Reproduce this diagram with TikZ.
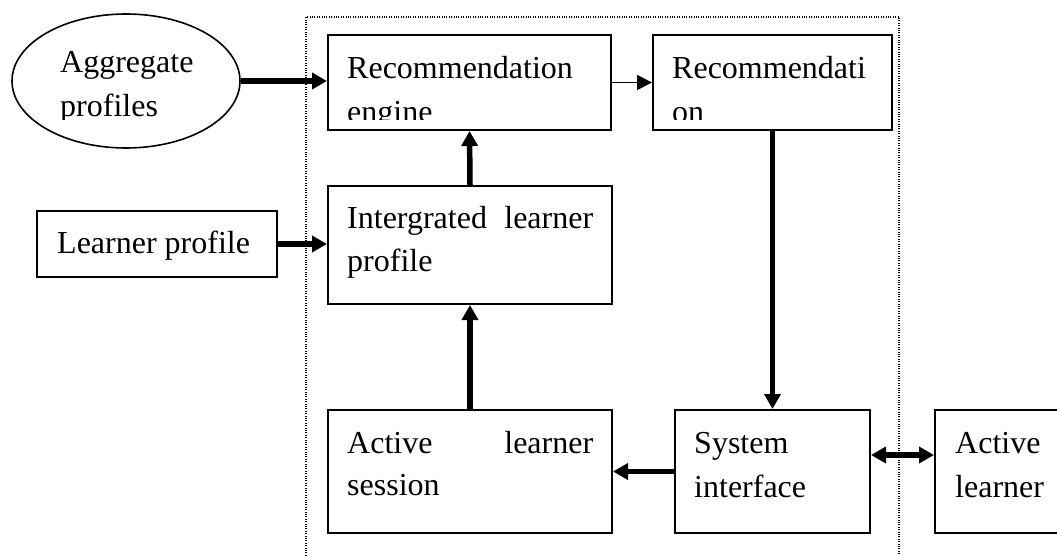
\documentclass[tikz,border=0pt]{standalone}
\usepackage{fontspec}
\setmainfont{Liberation Serif}
\usetikzlibrary{arrows.meta,shapes.geometric}

\tikzset{
  box/.style={draw, line width=2pt, rectangle, inner sep=0pt},
  oval/.style={draw, line width=1.6pt, ellipse, inner sep=0pt},
  label/.style={anchor=base west, inner sep=0pt, font=\fontsize{32}{44}\selectfont},
  heavy/.style={line width=5.5pt, -{Triangle[length=15pt,width=16pt]}},
  heavyboth/.style={line width=5.5pt, {Triangle[length=15pt,width=16pt]}-{Triangle[length=15pt,width=16pt]}},
  light/.style={line width=1.8pt, -{Triangle[length=15pt,width=15pt]}},
  frame/.style={line width=1.2pt, dash pattern=on 1pt off 1.4pt},
}

\begin{document}
\begin{tikzpicture}[x=1pt,y=-1pt]
\useasboundingbox (0,0) rectangle (1057,556);

% system boundary, open at the bottom
\draw[frame] (306,575) -- (306,17) -- (899,17) -- (899,575);

% blocks
\node[oval, minimum width=228pt, minimum height=134pt] (agg) at (126,81) {};
\node[box, minimum width=283pt, minimum height=95pt] (eng) at (469.5,82.5) {};
\node[box, minimum width=239pt, minimum height=95pt] (rec) at (772.5,82.5) {};
\node[box, minimum width=240pt, minimum height=66pt] (lp) at (157,244) {};
\node[box, minimum width=284pt, minimum height=118pt] (integ) at (470,245) {};
\node[box, minimum width=284pt, minimum height=123pt] (sess) at (470,471.5) {};
\node[box, minimum width=195pt, minimum height=123pt] (sys) at (772.5,471.5) {};
\node[box, minimum width=170pt, minimum height=123pt] (al) at (1020,471.5) {};

% first lines of the top row
\node[label] (aggA) at (60,73) {Aggregate};
\node[label] (engA) at (347,79) {Recommendation};
\node[label] (recA) at (672,79) {Recommendati};
% second lines of the top row, cut off by the text area
\begin{scope}
  \clip (0,0) rectangle (1057,120);
  \node[label] (aggB) at (60,117) {profiles};
  \node[label] (engB) at (347,123) {engine};
  \node[label] (recB) at (672,123) {on};
\end{scope}

\node[label] (lpA) at (57,253) {Learner profile};
\node[label] (integA) at (347,228) {\makebox[246pt][s]{Intergrated learner}};
\node[label] (integB) at (347,271) {profile};
\node[label] (sessA) at (347,453) {\makebox[246pt][s]{Active learner}};
\node[label] (sessB) at (347,495) {session};
\node[label] (sysA) at (694,453) {System};
\node[label] (sysB) at (694,497) {interface};
\node[label] (alA) at (955,453) {Active};
\node[label] (alB) at (955,497) {learner};

% connectors
\draw[heavy] (agg.east) -- (agg.east -| eng.west);
\draw[light] (eng.east) -- (rec.west);
\draw[heavy] (lp.east) -- (lp.east -| integ.west);
\draw[heavy] (integ.north) -- (eng.south);
\draw[heavy] (sess.north) -- (integ.south);
\draw[heavy] (rec.south) -- (sys.north);
\draw[heavy] (sys.west) -- (sess.east);
\draw[heavyboth] ([yshift=16.5pt]sys.east) -- ([yshift=16.5pt]al.west);
\end{tikzpicture}
\end{document}
